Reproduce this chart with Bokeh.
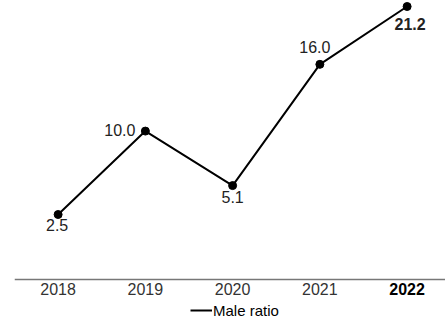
from bokeh.plotting import figure
from bokeh.models import ColumnDataSource, Range1d, Legend, LegendItem, Span
from bokeh.core.properties import value
from bokeh.embed import file_html
from bokeh.resources import INLINE

years = [2018, 2019, 2020, 2021, 2022]
male_ratio = [2.5, 10.0, 5.1, 16.0, 21.2]
value_labels = ["2.5", "10.0", "5.1", "16.0", "21.2"]
tick_labels = ["2018", "2019", "2020", "2021", "2022"]
series_name = "Male ratio"

# styling (not data)
lab_align = ["center", "right", "center", "center", "center"]
lab_base = ["top", "middle", "top", "alphabetic", "top"]
lab_dx = [-1, -10, 0, -5, 3]
lab_dy = [4, -1, 5, -17, 11]
lab_weight = ["normal", "normal", "normal", "normal", "bold"]
tick_weight = ["normal", "normal", "normal", "normal", "bold"]
tick_color = ["#333333", "#333333", "#333333", "#333333", "#000000"]

FONT = "Liberation Sans"
BASE = -3.34  # value where the baseline axis sits

src = ColumnDataSource(dict(x=years, y=male_ratio, t=value_labels, align=lab_align,
                            base=lab_base, dx=lab_dx, dy=lab_dy, w=lab_weight))
tick_src = ColumnDataSource(dict(x=years, y=[BASE] * len(years), t=tick_labels,
                                 w=tick_weight, c=tick_color))

p = figure(width=445, height=321, output_backend="svg", toolbar_location=None,
           x_range=Range1d(2017.5, 2022.44), y_range=Range1d(-7.12, 21.74),
           min_border_left=14, min_border_right=0, min_border_top=0, min_border_bottom=0,
           x_axis_type=None, y_axis_type=None)
p.outline_line_color = None
p.xgrid.visible = False
p.ygrid.visible = False
p.background_fill_color = "white"
p.border_fill_color = "white"

p.add_layout(Span(location=BASE, dimension="width", line_color="#777777", line_width=1.5))

ln = p.line("x", "y", source=src, line_color="black", line_width=2)
p.scatter("x", "y", source=src, size=8, color="black")
p.text("x", "y", text="t", source=src, text_align="align", text_baseline="base",
       x_offset="dx", y_offset="dy", text_font=value(FONT), text_font_size="16px",
       text_color="#222222", text_font_style="w")

p.text("x", "y", text="t", source=tick_src, text_align="center", text_baseline="top",
       y_offset=4, text_font=value(FONT), text_font_size="16px",
       text_color="c", text_font_style="w")

legend = Legend(items=[LegendItem(label=series_name, renderers=[ln])], orientation="horizontal",
                location=(176, 2), border_line_color=None, background_fill_alpha=0,
                padding=0, margin=0, spacing=0, glyph_width=22, glyph_height=18,
                label_standoff=1, label_text_font=FONT, label_text_font_size="15px",
                label_text_color="black", label_height=18)
p.add_layout(legend, "center")

open("out.html", "w").write(file_html(p, INLINE))
